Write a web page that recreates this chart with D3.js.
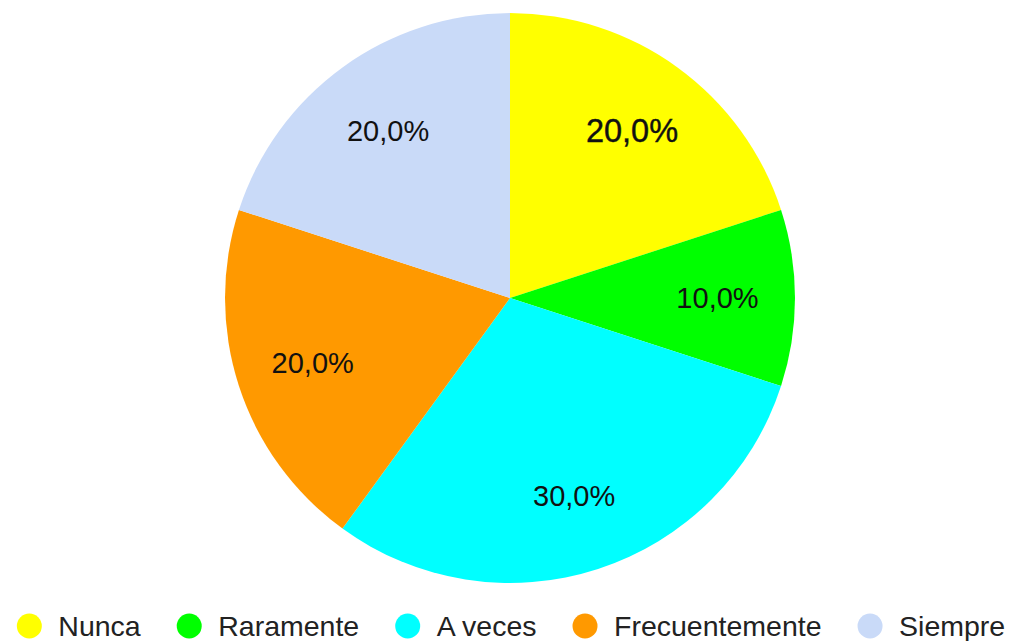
<!DOCTYPE html>
<html>
<head>
<meta charset="utf-8">
<script src="https://cdn.jsdelivr.net/npm/d3@7"></script>
<style>
  html, body { margin: 0; padding: 0; background: #fff; }
  svg { display: block; font-family: Arial, "Liberation Sans", sans-serif; }
</style>
</head>
<body>
<svg id="chart" width="1013" height="641"></svg>
<script>
// Survey answer categories and their share of responses (%)
const categories = ["Nunca", "Raramente", "A veces", "Frecuentemente", "Siempre"];
const shares = [20, 10, 30, 20, 20];
const sliceColors = ["#ffff00", "#00ff00", "#00ffff", "#ff9900", "#c9daf8"];

// The slice whose label is drawn emphasised
const emphasised = "Nunca";

const width = 1013, height = 641;
const cx = 510, cy = 298, radius = 285;
const svg = d3.select("#chart");

const data = categories.map((c, i) => ({ category: c, value: shares[i] }));
const color = d3.scaleOrdinal().domain(categories).range(sliceColors);
const total = d3.sum(shares);
const fmt = v => d3.format(".1f")(v).replace(".", ",") + "%";

const pie = d3.pie().value(d => d.value).sort(null);
const arc = d3.arc().innerRadius(0).outerRadius(radius);
const labelArc = d3.arc().innerRadius(radius * 0.728).outerRadius(radius * 0.728);

const g = svg.append("g").attr("transform", `translate(${cx},${cy})`);
const arcs = pie(data);

g.selectAll("path.slice")
  .data(arcs)
  .join("path")
  .attr("class", "slice")
  .attr("d", arc)
  .attr("fill", d => color(d.data.category));

g.selectAll("text.pct")
  .data(arcs)
  .join("text")
  .attr("class", "pct")
  .attr("transform", d => `translate(${labelArc.centroid(d)})`)
  .attr("text-anchor", "middle")
  .attr("dy", "0.36em")
  .attr("font-size", d => d.data.category === emphasised ? 32.5 : 29)
  .attr("fill", "#111")
  .attr("stroke", d => d.data.category === emphasised ? "#111" : "none")
  .attr("stroke-width", 0.4)
  .text(d => fmt(d.data.value / total * 100));

// Legend: centred row of dot + label
const legendY = 626;
const legend = svg.append("g").attr("class", "legend");
const items = legend.selectAll("g.item")
  .data(categories)
  .join("g")
  .attr("class", "item");

items.append("circle")
  .attr("r", 12.5)
  .attr("cy", legendY)
  .attr("fill", d => color(d));

items.append("text")
  .attr("y", legendY + 10)
  .attr("font-size", 28.5)
  .attr("fill", "#222")
  .text(d => d);

const dotR = 12.5, textGap = 16.5, itemGap = 36;
const widths = [];
items.each(function () {
  widths.push(d3.select(this).select("text").node().getComputedTextLength());
});
const totalW = d3.sum(widths.map(w => dotR * 2 + textGap + w)) + itemGap * (widths.length - 1);
let x = cx + 1 - totalW / 2;
items.each(function (d, i) {
  const item = d3.select(this);
  item.select("circle").attr("cx", x + dotR);
  item.select("text").attr("x", x + dotR * 2 + textGap);
  x += dotR * 2 + textGap + widths[i] + itemGap;
});
</script>
</body>
</html>
